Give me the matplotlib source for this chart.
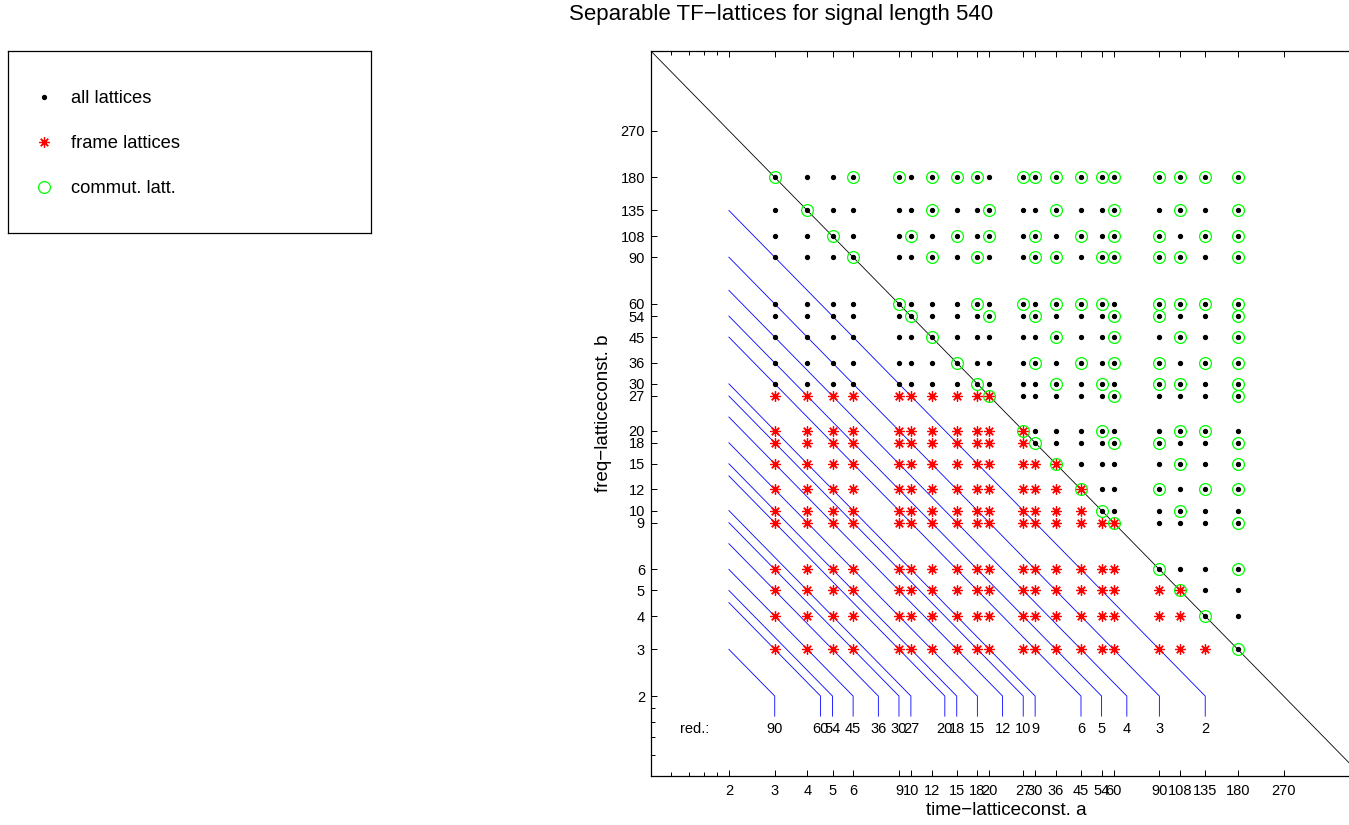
import numpy as np
import matplotlib.pyplot as plt
from matplotlib.lines import Line2D

plt.rcParams['font.family'] = ['Liberation Sans', 'DejaVu Sans']

# signal length and lattice constants (divisors of L shown in the grid)
L = 540
divisors = [3, 4, 5, 6, 9, 10, 12, 15, 18, 20, 27, 30, 36, 45, 54, 60, 90, 108, 135, 180]
tick_vals = [2, 3, 4, 5, 6, 9, 10, 12, 15, 18, 20, 27, 30, 36, 45, 54, 60, 90, 108, 135, 180, 270]
minor_vals = [1.2, 1.4, 1.6, 1.8]
# frame lattices: a*b < L with b up to 27, plus these critically sampled ones
frame_max_b = 27
critical_frames = [(20, 27), (27, 20), (36, 15), (45, 12), (60, 9), (108, 5)]
# redundancies labelled at the bottom
red_values = [90, 60, 54, 45, 36, 30, 27, 20, 18, 15, 12, 10, 9, 6, 5, 4, 3, 2]
line_bottom = 1.68
label_y = 1.5

allA, allB = [], []
frA, frB = [], []
coA, coB = [], []
for b in divisors:
    for a in divisors:
        allA.append(a)
        allB.append(b)
        if (a * b < L and b <= frame_max_b) or (a, b) in critical_frames:
            frA.append(a)
            frB.append(b)
        if (a * b) % L == 0:
            coA.append(a)
            coB.append(b)

W, H = 1349, 825
fig = plt.figure(figsize=(W / 100, H / 100), dpi=100)
ax = fig.add_axes([650.5 / W, (H - 776) / H, (1362 - 650.5) / W, (776 - 50.6) / H])

# redundancy lines
for r in red_values:
    c = L / r
    ax.plot([2, c / 2, c / 2], [c / 2, 2, line_bottom], color='b', lw=0.6)
    ax.text(c / 2, label_y, str(r), ha='center', va='center', fontsize=10.5)
ax.text(1.3, label_y, 'red.:', ha='left', va='center', fontsize=10.5)

# critical line a*b = L
ax.plot([1, L], [L, 1], color='k', lw=0.6)

h1, = ax.plot(allA, allB, 'o', color='k', ms=2.8, ls='none')
h2, = ax.plot(frA, frB, marker=(8, 2, 0), color='r', ms=7.5, mew=0.9, ls='none')
h3, = ax.plot(coA, coB, 'o', mfc='none', mec=(0, 1, 0), ms=8.5, mew=0.9, ls='none')

ax.set_xscale('log')
ax.set_yscale('log')
ax.set_xlim(1, L)
ax.set_ylim(1, L)
ax.set_xticks(tick_vals)
ax.set_xticklabels([str(v) for v in tick_vals])
ax.set_yticks(tick_vals)
ax.set_yticklabels([str(v) for v in tick_vals])
ax.set_xticks(minor_vals, minor=True)
ax.set_yticks(minor_vals, minor=True)
ax.xaxis.set_minor_formatter(plt.NullFormatter())
ax.yaxis.set_minor_formatter(plt.NullFormatter())
ax.tick_params(which='both', direction='in', top=True, right=True, labelsize=10.5)
ax.tick_params(which='major', length=4.5, width=0.7)
ax.tick_params(which='minor', length=3, width=0.7)
ax.tick_params(axis='x', pad=6)
ax.tick_params(axis='y', pad=4)
for s in ax.spines.values():
    s.set_linewidth(0.9)

ax.set_xlabel('time\u2212latticeconst. a', fontsize=13.5, labelpad=2.5)
ax.set_ylabel('freq\u2212latticeconst. b', fontsize=13.5, labelpad=6)
fig.text(781 / W, (H - 20) / H, 'Separable TF\u2212lattices for signal length 540',
         ha='center', va='baseline', fontsize=16)

# legend box on the left
lax = fig.add_axes([8 / W, (H - 233) / H, 363 / W, 182 / H])
lax.set_xticks([])
lax.set_yticks([])
for s in lax.spines.values():
    s.set_linewidth(0.9)
lax.legend([h1, h2, h3], ['all lattices', 'frame lattices', 'commut. latt.'],
           loc='upper left', bbox_to_anchor=(0.073, 0.783), borderpad=0,
           frameon=False, handlelength=1.0, handletextpad=0.98,
           labelspacing=1.52, fontsize=13.2, borderaxespad=0)

fig.savefig('out.png', dpi=100)
